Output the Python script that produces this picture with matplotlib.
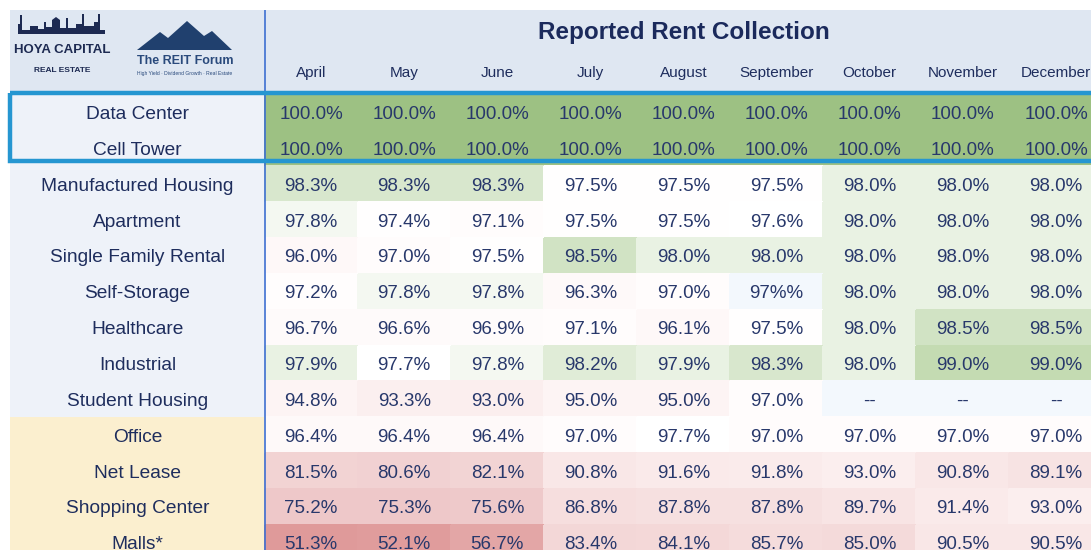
import numpy as np
import matplotlib
matplotlib.use('Agg')
import matplotlib.pyplot as plt
from matplotlib.colors import LinearSegmentedColormap, Normalize
from matplotlib.patches import Rectangle, Polygon

months = ['April', 'May', 'June', 'July', 'August', 'September', 'October', 'November', 'December']
sectors = ['Data Center', 'Cell Tower', 'Manufactured Housing', 'Apartment', 'Single Family Rental',
           'Self-Storage', 'Healthcare', 'Industrial', 'Student Housing', 'Office', 'Net Lease',
           'Shopping Center', 'Malls*']
sector_group = ['top'] * 2 + ['mid'] * 7 + ['retail'] * 4

data_center = ['100.0%', '100.0%', '100.0%', '100.0%', '100.0%', '100.0%', '100.0%', '100.0%', '100.0%']
cell_tower = ['100.0%', '100.0%', '100.0%', '100.0%', '100.0%', '100.0%', '100.0%', '100.0%', '100.0%']
manufactured = ['98.3%', '98.3%', '98.3%', '97.5%', '97.5%', '97.5%', '98.0%', '98.0%', '98.0%']
apartment = ['97.8%', '97.4%', '97.1%', '97.5%', '97.5%', '97.6%', '98.0%', '98.0%', '98.0%']
single_family = ['96.0%', '97.0%', '97.5%', '98.5%', '98.0%', '98.0%', '98.0%', '98.0%', '98.0%']
self_storage = ['97.2%', '97.8%', '97.8%', '96.3%', '97.0%', '97%%', '98.0%', '98.0%', '98.0%']
healthcare = ['96.7%', '96.6%', '96.9%', '97.1%', '96.1%', '97.5%', '98.0%', '98.5%', '98.5%']
industrial = ['97.9%', '97.7%', '97.8%', '98.2%', '97.9%', '98.3%', '98.0%', '99.0%', '99.0%']
student = ['94.8%', '93.3%', '93.0%', '95.0%', '95.0%', '97.0%', '--', '--', '--']
office = ['96.4%', '96.4%', '96.4%', '97.0%', '97.7%', '97.0%', '97.0%', '97.0%', '97.0%']
net_lease = ['81.5%', '80.6%', '82.1%', '90.8%', '91.6%', '91.8%', '93.0%', '90.8%', '89.1%']
shopping = ['75.2%', '75.3%', '75.6%', '86.8%', '87.8%', '87.8%', '89.7%', '91.4%', '93.0%']
malls = ['51.3%', '52.1%', '56.7%', '83.4%', '84.1%', '85.7%', '85.0%', '90.5%', '90.5%']

table = [data_center, cell_tower, manufactured, apartment, single_family, self_storage,
         healthcare, industrial, student, office, net_lease, shopping, malls]


def parse(s):
    try:
        return float(s[:-1]) if s.endswith('%') else np.nan
    except ValueError:
        return np.nan


values = np.ma.masked_invalid(np.array([[parse(s) for s in row] for row in table]))

# red - white - green scale, like the spreadsheet conditional format
lo, hi = 51.0, 100.0
stops = [(51.0, '#df9a9a'), (57.0, '#e3a7a7'), (75.0, '#eec8c9'), (81.5, '#f2d3d3'),
         (89.0, '#f7e2e2'), (93.0, '#fbeeee'), (96.5, '#fef9f9'), (97.7, '#ffffff'),
         (98.0, '#edf4e8'), (98.3, '#dfebd5'), (98.5, '#d6e6cb'), (99.0, '#c6dcb4'),
         (100.0, '#9dc183')]
cmap = LinearSegmentedColormap.from_list('rent', [((v - lo) / (hi - lo), c) for v, c in stops])
cmap.set_bad('#f3f8fd')

NAVY = '#1e2d5d'
NUM = '#28386b'
FONT = 'Liberation Sans'

# layout in pixels of the 1091x550 picture
W, H = 1091, 550
X0, COL_W = 264.5, 93.12
Y0, ROW_H = 94.6, 35.85


def px(x, y):
    return (x - X0) / COL_W, (y - Y0) / ROW_H


fig = plt.figure(figsize=(W / 100, H / 100), dpi=100)
ax = fig.add_axes([0, 0, 1, 1])
ax.set_xlim(px(0, 0)[0], px(W, 0)[0])
ax.set_ylim(px(0, H)[1], px(0, 0)[1])
ax.axis('off')

left, top = px(10.5, 10)
right = px(W, 0)[0]
n_rows, n_cols = len(sectors), len(months)

# header band
ax.add_patch(Rectangle((left, top), right - left, -top, facecolor='#dfe7f2', edgecolor='none', zorder=0))

# label column backgrounds
group_colors = {'top': '#eef2f9', 'mid': '#eef2f9', 'retail': '#fbefcf'}
ax.barh(np.arange(n_rows) + 0.5, -left, left=left, height=1.0,
        color=[group_colors[g] for g in sector_group], edgecolor='none', zorder=0)

# heat cells
ax.pcolormesh(np.arange(n_cols + 1), np.arange(n_rows + 1), values, cmap=cmap,
              norm=Normalize(lo, hi), shading='flat', edgecolor='face', linewidth=0.3, zorder=1)

for i, row in enumerate(table):
    ax.text(left / 2, i + 0.5, sectors[i], ha='center', va='center_baseline',
            fontsize=13.8, color=NAVY, family=FONT, zorder=3)
    for j, s in enumerate(row):
        ax.text(j + 0.5, i + 0.5, s, ha='center', va='center_baseline',
                fontsize=13.5, color=NUM, family=FONT, zorder=3)

for j, m in enumerate(months):
    ax.text(j + 0.5, px(0, 72)[1], m, ha='center', va='center_baseline',
            fontsize=11, color=NAVY, family=FONT, zorder=3)

ax.text(px(684, 0)[0], px(0, 30)[1], 'Reported Rent Collection', ha='center', va='center_baseline',
        fontsize=17.5, fontweight='bold', color='#1b2a5c', family=FONT, zorder=3)

# divider and highlight box
ax.vlines(0, top, px(0, H)[1], color='#3d6fd1', lw=1.2, zorder=4)
ax.add_patch(Rectangle((left, -0.05), right - left + 1, 1.9, fill=False,
                       edgecolor='#2596d1', lw=3.2, zorder=5))

# logos
sky = [(18, 34), (18, 24), (20, 24), (20, 15), (22, 15), (22, 30), (30, 30), (30, 26), (38, 26),
       (38, 29), (44, 29), (44, 22), (46, 22), (46, 27), (52, 27), (52, 20), (56, 17), (60, 20),
       (60, 28), (66, 28), (66, 18), (68, 18), (68, 28), (76, 28), (76, 24), (82, 24), (82, 14),
       (84, 14), (84, 26), (94, 26), (94, 22), (98, 22), (98, 14), (100, 14), (100, 30), (105, 30),
       (105, 34)]
ax.add_patch(Polygon([px(x, y) for x, y in sky], closed=True, facecolor='#1d2a52', edgecolor='none', zorder=3))
ax.text(*px(62, 50), 'HOYA CAPITAL', ha='center', va='center', fontsize=9.5, fontweight='bold',
        color='#1d2a52', family=FONT, zorder=3)
ax.text(*px(62, 70), 'REAL ESTATE', ha='center', va='center', fontsize=6, fontweight='bold',
        color='#1d2a52', family=FONT, zorder=3)

mountain = [(137, 50), (160, 32), (168, 38), (187, 21), (204, 36), (212, 31), (232, 50)]
ax.add_patch(Polygon([px(x, y) for x, y in mountain], closed=True, facecolor='#20406e', edgecolor='none', zorder=3))
ax.text(*px(185, 61), 'The REIT Forum', ha='center', va='center', fontsize=9, fontweight='bold',
        color='#2a4a7c', family=FONT, zorder=3)
ax.text(*px(185, 73), 'High Yield · Dividend Growth · Real Estate', ha='center', va='center',
        fontsize=3.6, color='#2a4a7c', family=FONT, zorder=3)

fig.savefig('out.png', dpi=100)
